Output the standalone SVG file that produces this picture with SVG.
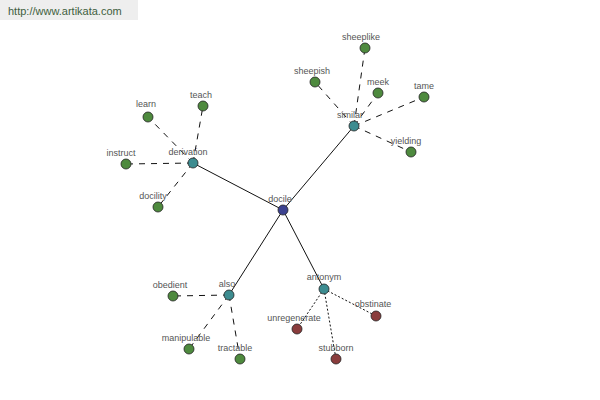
<svg xmlns="http://www.w3.org/2000/svg" width="600" height="400" viewBox="0 0 600 400">
<style>
text{font-family:"Liberation Sans",Arial,sans-serif;font-size:9px;fill:#555;text-anchor:middle}
.n{stroke:#222;stroke-width:0.8}
.leaf{fill:#4e8a3e}
.neg{fill:#8a3c3c}
.hub{fill:#3d8c90}
.root{fill:#3c4290}
.e{stroke:#111;stroke-width:1;fill:none}
.d{stroke-dasharray:6,6}
.o{stroke-dasharray:2,2}
</style>
<rect x="0" y="0" width="138" height="20" fill="#eeeeee"/>
<text x="8" y="15" style="text-anchor:start;font-size:11px;fill:#3e5e3e">http://www.artikata.com</text>
<g id="connectors">
<line class="e" x1="283" y1="210" x2="193" y2="163"/>
<line class="e" x1="283" y1="210" x2="354" y2="126"/>
<line class="e" x1="283" y1="210" x2="229" y2="295"/>
<line class="e" x1="283" y1="210" x2="324" y2="289"/>
<line class="e d" x1="193" y1="163" x2="148" y2="117"/>
<line class="e d" x1="193" y1="163" x2="203" y2="106"/>
<line class="e d" x1="193" y1="163" x2="126" y2="164"/>
<line class="e d" x1="193" y1="163" x2="158" y2="207"/>
<line class="e d" x1="354" y1="126" x2="315" y2="82"/>
<line class="e d" x1="354" y1="126" x2="365" y2="48"/>
<line class="e d" x1="354" y1="126" x2="378" y2="93"/>
<line class="e d" x1="354" y1="126" x2="424" y2="97"/>
<line class="e d" x1="354" y1="126" x2="411" y2="152"/>
<line class="e d" x1="229" y1="295" x2="173" y2="296"/>
<line class="e d" x1="229" y1="295" x2="189" y2="349"/>
<line class="e d" x1="229" y1="295" x2="240" y2="359"/>
<line class="e o" x1="324" y1="289" x2="297" y2="329"/>
<line class="e o" x1="324" y1="289" x2="336" y2="359"/>
<line class="e o" x1="324" y1="289" x2="376" y2="316"/>
</g>
<g id="docile"><circle class="n root" cx="283" cy="210" r="5"/><text x="280" y="202">docile</text></g>
<g id="derivation"><circle class="n hub" cx="193" cy="163" r="5"/><text x="188" y="155">derivation</text></g>
<g id="similar"><circle class="n hub" cx="354" cy="126" r="5"/><text x="350" y="118">similar</text></g>
<g id="also"><circle class="n hub" cx="229" cy="295" r="5"/><text x="227" y="287">also</text></g>
<g id="antonym"><circle class="n hub" cx="324" cy="289" r="5"/><text x="324" y="280">antonym</text></g>
<g id="learn"><circle class="n leaf" cx="148" cy="117" r="5"/><text x="146" y="107">learn</text></g>
<g id="teach"><circle class="n leaf" cx="203" cy="106" r="5"/><text x="201" y="98">teach</text></g>
<g id="instruct"><circle class="n leaf" cx="126" cy="164" r="5"/><text x="121" y="156">instruct</text></g>
<g id="docility"><circle class="n leaf" cx="158" cy="207" r="5"/><text x="153" y="199">docility</text></g>
<g id="sheepish"><circle class="n leaf" cx="315" cy="82" r="5"/><text x="312" y="74">sheepish</text></g>
<g id="sheeplike"><circle class="n leaf" cx="365" cy="48" r="5"/><text x="361" y="40">sheeplike</text></g>
<g id="meek"><circle class="n leaf" cx="378" cy="93" r="5"/><text x="378" y="85">meek</text></g>
<g id="tame"><circle class="n leaf" cx="424" cy="97" r="5"/><text x="424" y="89">tame</text></g>
<g id="yielding"><circle class="n leaf" cx="411" cy="152" r="5"/><text x="406" y="144">yielding</text></g>
<g id="obedient"><circle class="n leaf" cx="173" cy="296" r="5"/><text x="170" y="288">obedient</text></g>
<g id="manipulable"><circle class="n leaf" cx="189" cy="349" r="5"/><text x="186" y="341">manipulable</text></g>
<g id="tractable"><circle class="n leaf" cx="240" cy="359" r="5"/><text x="235" y="351">tractable</text></g>
<g id="unregenerate"><circle class="n neg" cx="297" cy="329" r="5"/><text x="294" y="321">unregenerate</text></g>
<g id="stubborn"><circle class="n neg" cx="336" cy="359" r="5"/><text x="336" y="351">stubborn</text></g>
<g id="obstinate"><circle class="n neg" cx="376" cy="316" r="5"/><text x="373" y="307">obstinate</text></g>
</svg>
